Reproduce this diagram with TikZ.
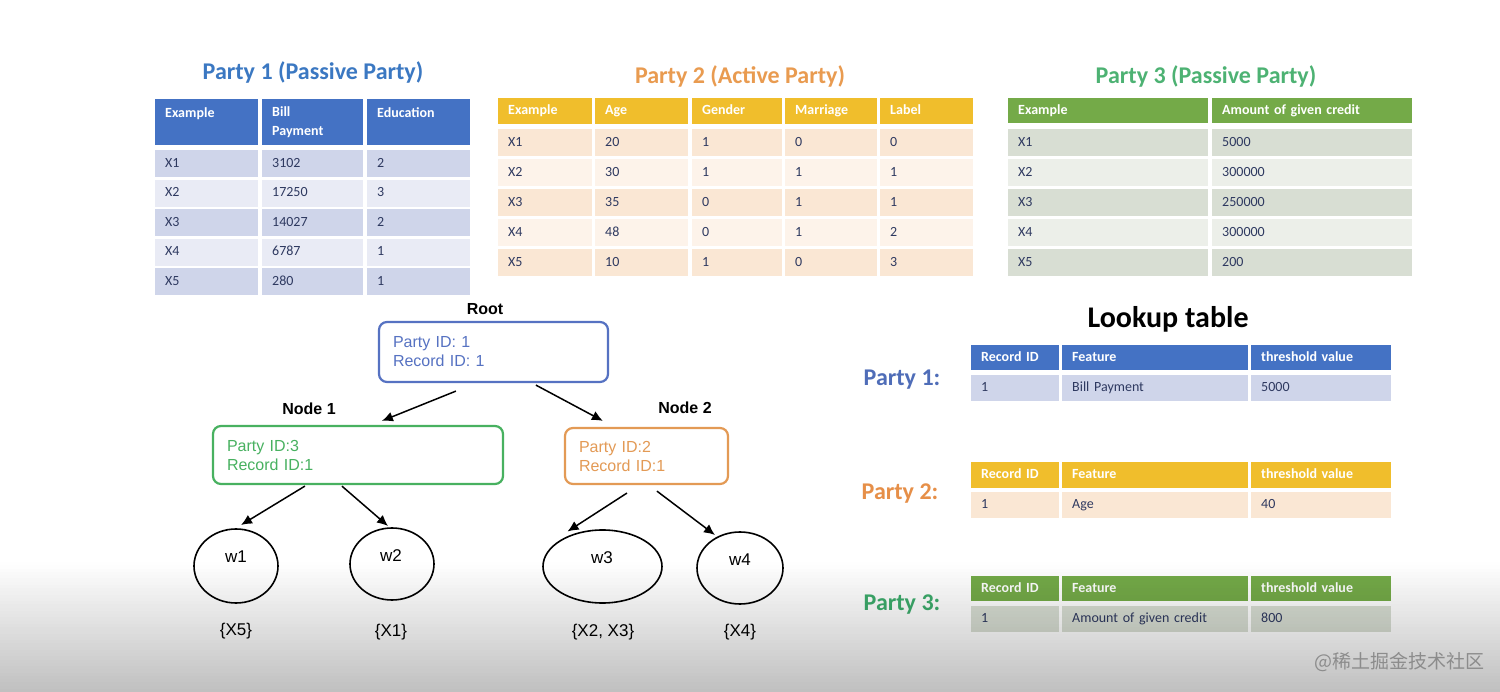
\documentclass[tikz,border=0pt]{standalone}
\usepackage{fontspec}
\setmainfont{Carlito}
\newfontfamily\arialf{Liberation Sans}
\newfontfamily\cjkf{Noto Sans CJK SC}
\usetikzlibrary{arrows.meta,calc,shapes.geometric}
\definecolor{hblue}{HTML}{4472C4}
\definecolor{rblueA}{HTML}{CFD5EA}
\definecolor{rblueB}{HTML}{E9EBF5}
\definecolor{hgold}{HTML}{F0BE2C}
\definecolor{rgoldA}{HTML}{FAE7D4}
\definecolor{rgoldB}{HTML}{FDF3EA}
\definecolor{hgreen}{HTML}{74AA48}
\definecolor{rgreenA}{HTML}{D8DED3}
\definecolor{rgreenB}{HTML}{ECEFE9}
\definecolor{celltext}{HTML}{2E3960}
\definecolor{tblue}{HTML}{3B78C2}
\definecolor{torange}{HTML}{E99B50}
\definecolor{tgreen}{HTML}{4DB273}
\definecolor{lblue}{HTML}{4F6DB8}
\definecolor{lorange}{HTML}{E68F48}
\definecolor{lgreen}{HTML}{3DAC6C}
\definecolor{rootc}{HTML}{5672C2}
\definecolor{nonec}{HTML}{48B160}
\definecolor{ntwoc}{HTML}{E39A55}
\tikzset{
  cellbase/.style={anchor=north west, inner xsep=10pt, inner ysep=0pt, align=left, text=celltext, font=\fontsize{14}{18}\selectfont},
  cellbox/.style={cellbase, text height=10pt, text depth=3pt},
  headbox/.style={cellbox, text=white, font=\bfseries\fontsize{14}{19}\selectfont},
  tallhead/.style={cellbase, text=white, font=\bfseries\fontsize{14}{19}\selectfont},
  ttl/.style={font=\bfseries\fontsize{24}{28}\selectfont},
  treebox/.style={draw, line width=2.2pt, rounded corners=8pt, inner xsep=14pt, align=left, font=\arialf\fontsize{16}{19}\selectfont},
  treelabel/.style={font=\arialf\bfseries\fontsize{16}{19}\selectfont},
  leaf/.style={draw, ellipse, line width=1.6pt, inner sep=0pt},
  leaftext/.style={font=\arialf\fontsize{17}{20}\selectfont},
  link/.style={line width=1.5pt, -{Latex[length=11pt,width=10pt]}},
}
\begin{document}
\begin{tikzpicture}[x=1pt,y=-1pt]
\useasboundingbox (0,0) rectangle (1500,692);
\fill[white] (0,0) rectangle (1500,692);

% ---------- Party 1 ----------
\node[ttl, text=tblue] (t1) at (313,72) {Party 1 (Passive Party)};
\node[tallhead, fill=hblue, text width=83pt, minimum height=46pt] (p1h1) at (155,99) {Example\\\phantom{P}};
\node[tallhead, fill=hblue, text width=81pt, minimum height=46pt] (p1h2) at (262,99) {Bill\\Payment};
\node[tallhead, fill=hblue, text width=83pt, minimum height=46pt] (p1h3) at (367,99) {Education\\\phantom{P}};
\foreach \ex/\bp/\ed/\cl [count=\i] in {X1/3102/2/rblueA, X2/17250/3/rblueB, X3/14027/2/rblueA, X4/6787/1/rblueB, X5/280/1/rblueA}{
  \pgfmathsetmacro\yy{150+(\i-1)*29.5}
  \node[cellbox, fill=\cl, text width=83pt, minimum height=27pt] (p1r\i-a) at (155,\yy) {\ex};
  \node[cellbox, fill=\cl, text width=81pt, minimum height=27pt] (p1r\i-b) at (262,\yy) {\bp};
  \node[cellbox, fill=\cl, text width=83pt, minimum height=27pt] (p1r\i-c) at (367,\yy) {\ed};
}

% ---------- Party 2 ----------
\node[ttl, text=torange] (t2) at (740,76) {Party 2 (Active Party)};
\node[headbox, fill=hgold, text width=74pt, minimum height=26pt] (p2h1) at (498,98) {Example};
\node[headbox, fill=hgold, text width=73pt, minimum height=26pt] (p2h2) at (595,98) {Age};
\node[headbox, fill=hgold, text width=70pt, minimum height=26pt] (p2h3) at (692,98) {Gender};
\node[headbox, fill=hgold, text width=72pt, minimum height=26pt] (p2h4) at (785,98) {Marriage};
\node[headbox, fill=hgold, text width=73pt, minimum height=26pt] (p2h5) at (880,98) {Label};
\foreach \ea/\eb/\ec/\ed/\ee/\cl [count=\i] in {X1/20/1/0/0/rgoldA, X2/30/1/1/1/rgoldB, X3/35/0/1/1/rgoldA, X4/48/0/1/2/rgoldB, X5/10/1/0/3/rgoldA}{
  \pgfmathsetmacro\yy{129+(\i-1)*30}
  \node[cellbox, fill=\cl, text width=74pt, minimum height=27pt] (p2r\i-a) at (498,\yy) {\ea};
  \node[cellbox, fill=\cl, text width=73pt, minimum height=27pt] (p2r\i-b) at (595,\yy) {\eb};
  \node[cellbox, fill=\cl, text width=70pt, minimum height=27pt] (p2r\i-c) at (692,\yy) {\ec};
  \node[cellbox, fill=\cl, text width=72pt, minimum height=27pt] (p2r\i-d) at (785,\yy) {\ed};
  \node[cellbox, fill=\cl, text width=73pt, minimum height=27pt] (p2r\i-e) at (880,\yy) {\ee};
}

% ---------- Party 3 ----------
\node[ttl, text=tgreen] (t3) at (1206,76) {Party 3 (Passive Party)};
\node[headbox, fill=hgreen, text width=180pt, minimum height=25pt] (p3h1) at (1008,98) {Example};
\node[headbox, fill=hgreen, text width=180pt, minimum height=25pt] (p3h2) at (1212,98) {Amount of given credit};
\foreach \ea/\eb/\cl [count=\i] in {X1/5000/rgreenA, X2/300000/rgreenB, X3/250000/rgreenA, X4/300000/rgreenB, X5/200/rgreenA}{
  \pgfmathsetmacro\yy{129+(\i-1)*30}
  \node[cellbox, fill=\cl, text width=180pt, minimum height=27pt] (p3r\i-a) at (1008,\yy) {\ea};
  \node[cellbox, fill=\cl, text width=180pt, minimum height=27pt] (p3r\i-b) at (1212,\yy) {\eb};
}

% ---------- Lookup tables ----------
\node[font=\bfseries\fontsize{30}{34}\selectfont] (lt) at (1168,319) {Lookup table};
\node[ttl, text=lblue] (lp1) at (902,380) {Party 1:};
\node[ttl, text=lorange] (lp2) at (900,494) {Party 2:};
\node[ttl, text=lgreen] (lp3) at (902,605) {Party 3:};
\foreach \hy/\hh/\ry/\hc/\rc/\fv/\tv [count=\k] in {345/25/375/hblue/rblueA/Bill Payment/5000, 462/26/492/hgold/rgoldA/Age/40, 576/25/606/hgreen/rgreenA/Amount of given credit/800}{
  \node[headbox, fill=\hc, text width=68pt, minimum height=\hh pt] (l\k h1) at (971,\hy) {Record ID};
  \node[headbox, fill=\hc, text width=166pt, minimum height=\hh pt] (l\k h2) at (1062,\hy) {Feature};
  \node[headbox, fill=\hc, text width=120pt, minimum height=\hh pt] (l\k h3) at (1251,\hy) {threshold value};
  \node[cellbox, fill=\rc, text width=68pt, minimum height=26pt] (l\k r1) at (971,\ry) {1};
  \node[cellbox, fill=\rc, text width=166pt, minimum height=26pt] (l\k r2) at (1062,\ry) {\fv};
  \node[cellbox, fill=\rc, text width=120pt, minimum height=26pt] (l\k r3) at (1251,\ry) {\tv};
}

% ---------- Tree ----------
\node[treelabel] (rootl) at (485,309) {Root};
\node[treebox, draw=rootc, text=rootc, minimum height=60pt, text width=201pt] (root) at (493.5,352) {Party ID: 1\\Record ID: 1};
\node[treelabel] (n1l) at (309,409) {Node 1};
\node[treebox, draw=nonec, text=nonec, minimum height=58pt, text width=262pt] (n1) at (358,455) {Party ID:3\\Record ID:1};
\node[treelabel] (n2l) at (685,408) {Node 2};
\node[treebox, draw=ntwoc, text=ntwoc, minimum height=56pt, text width=135pt] (n2) at (646.5,456) {Party ID:2\\Record ID:1};

\node[leaf, minimum width=84pt, minimum height=74pt] (w1) at (236,566) {};
\node[leaf, minimum width=84pt, minimum height=72pt] (w2) at (392,564) {};
\node[leaf, minimum width=119pt, minimum height=73pt] (w3) at (602.5,566.5) {};
\node[leaf, minimum width=86pt, minimum height=72pt] (w4) at (740,568) {};
\node[leaftext] (w1t) at (236,557) {w1};
\node[leaftext] (w2t) at (391,556) {w2};
\node[leaftext] (w3t) at (602,558) {w3};
\node[leaftext] (w4t) at (740,560) {w4};
\node[leaftext] (s1) at (236,631) {\{X5\}};
\node[leaftext] (s2) at (391,632) {\{X1\}};
\node[leaftext] (s3) at (603,632) {\{X2, X3\}};
\node[leaftext] (s4) at (740,632) {\{X4\}};

\draw[link] ($(root.south west)+(78,8)$) -- ($(n1.north west)+(170,-4)$);
\draw[link] ($(root.south west)+(158,2)$) -- ($(n2.north west)+(39,-6)$);
\draw[link] ($(n1.south west)+(93,1)$) -- ($(w1.center)+(5,-41)$);
\draw[link] ($(n1.south west)+(130,1)$) -- ($(w2.center)+(-4,-38)$);
\draw[link] ($(n2.south west)+(63,8)$) -- ($(w3.center)+(-35,-35)$);
\draw[link] ($(n2.south west)+(93,6)$) -- ($(w4.center)+(-25,-33)$);

% ---------- bottom gray overlay ----------
\foreach \k in {0,...,39}{
  \pgfmathsetmacro\op{0.25*(\k+0.5)/40}
  \pgfmathsetmacro\ya{562+\k*3.25}
  \pgfmathsetmacro\yb{562+(\k+1)*3.25}
  \fill[black, fill opacity=\op] (0,\ya) rectangle (1500,\yb);
}
\node[font=\cjkf\fontsize{19}{22}\selectfont, text=black!45] (wm) at (1399,662) {@稀土掘金技术社区};
\end{tikzpicture}
\end{document}
